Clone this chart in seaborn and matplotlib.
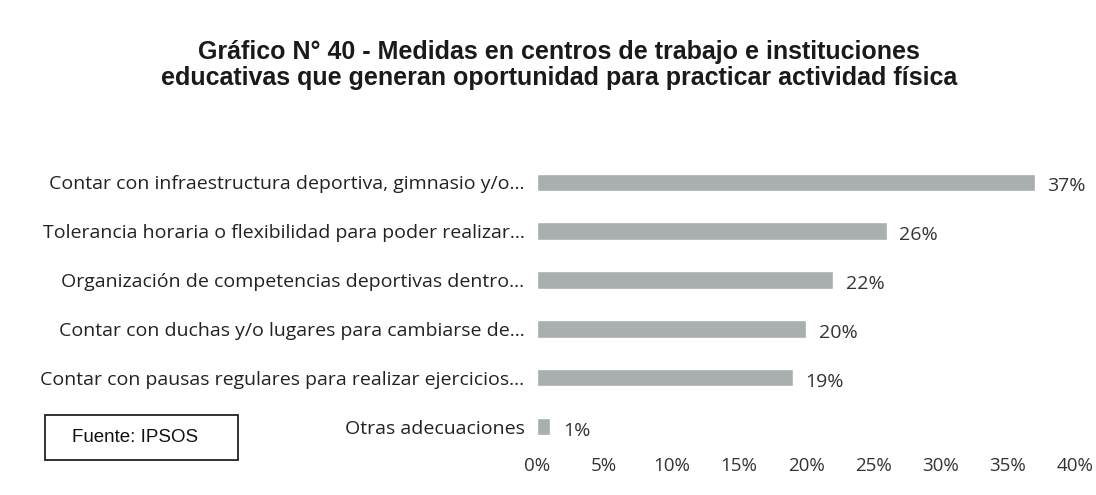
import matplotlib
matplotlib.use("Agg")
import matplotlib.pyplot as plt
from matplotlib.patches import Rectangle
from matplotlib.ticker import MultipleLocator, FuncFormatter
import seaborn as sns
import pandas as pd

categories = [
    "Contar con infraestructura deportiva, gimnasio y/o...",
    "Tolerancia horaria o flexibilidad para poder realizar...",
    "Organización de competencias deportivas dentro...",
    "Contar con duchas y/o lugares para cambiarse de...",
    "Contar con pausas regulares para realizar ejercicios...",
    "Otras adecuaciones",
]
values = [37, 26, 22, 20, 19, 1]
title = ("Gráfico N° 40 - Medidas en centros de trabajo e instituciones\n"
         "educativas que generan oportunidad para practicar actividad física")
source = "Fuente: IPSOS"

df = pd.DataFrame({"medida": categories, "pct": values})

sns.set_theme(style="white")
plt.rcParams["font.family"] = ["Open Sans", "DejaVu Sans"]

fig = plt.figure(figsize=(10.96, 4.95), dpi=100)
ax = fig.add_axes([0.49, 0.089, 0.491, 0.592])

sns.barplot(data=df, x="pct", y="medida", orient="h", color="#a9aeae",
            width=0.36, saturation=1, ax=ax)

ax.set_xlim(0, 40)
ax.xaxis.set_major_locator(MultipleLocator(5))
ax.xaxis.set_major_formatter(FuncFormatter(lambda v, _: f"{v:.0f}%"))
ax.set_xlabel("")
ax.set_ylabel("")
for s in ax.spines.values():
    s.set_visible(False)
ax.tick_params(axis="x", length=0, labelsize=13.5, colors="#333333", pad=4)
ax.tick_params(axis="y", length=0, labelsize=14, colors="#222222", pad=9)

for i, v in enumerate(values):
    ax.annotate(f"{v}%", xy=(v, i), xytext=(9, -3), textcoords="offset points",
                va="center", ha="left", fontsize=14, color="#333333")

fig.text(0.51, 0.869, title, ha="center", va="center", fontsize=18,
         fontweight="bold", family=["Liberation Sans", "DejaVu Sans"],
         color="#1a1a1a", linespacing=1.1)

# source note in a framed box at the lower left
fig.patches.append(Rectangle((0.041, 0.071), 0.176, 0.091,
                             transform=fig.transFigure, facecolor="white",
                             edgecolor="#222222", linewidth=1.3))
fig.text(0.123, 0.117, source, ha="center", va="center", fontsize=13.5,
         family=["Liberation Sans", "DejaVu Sans"], color="#111111")

fig.savefig("out.png", dpi=100)
